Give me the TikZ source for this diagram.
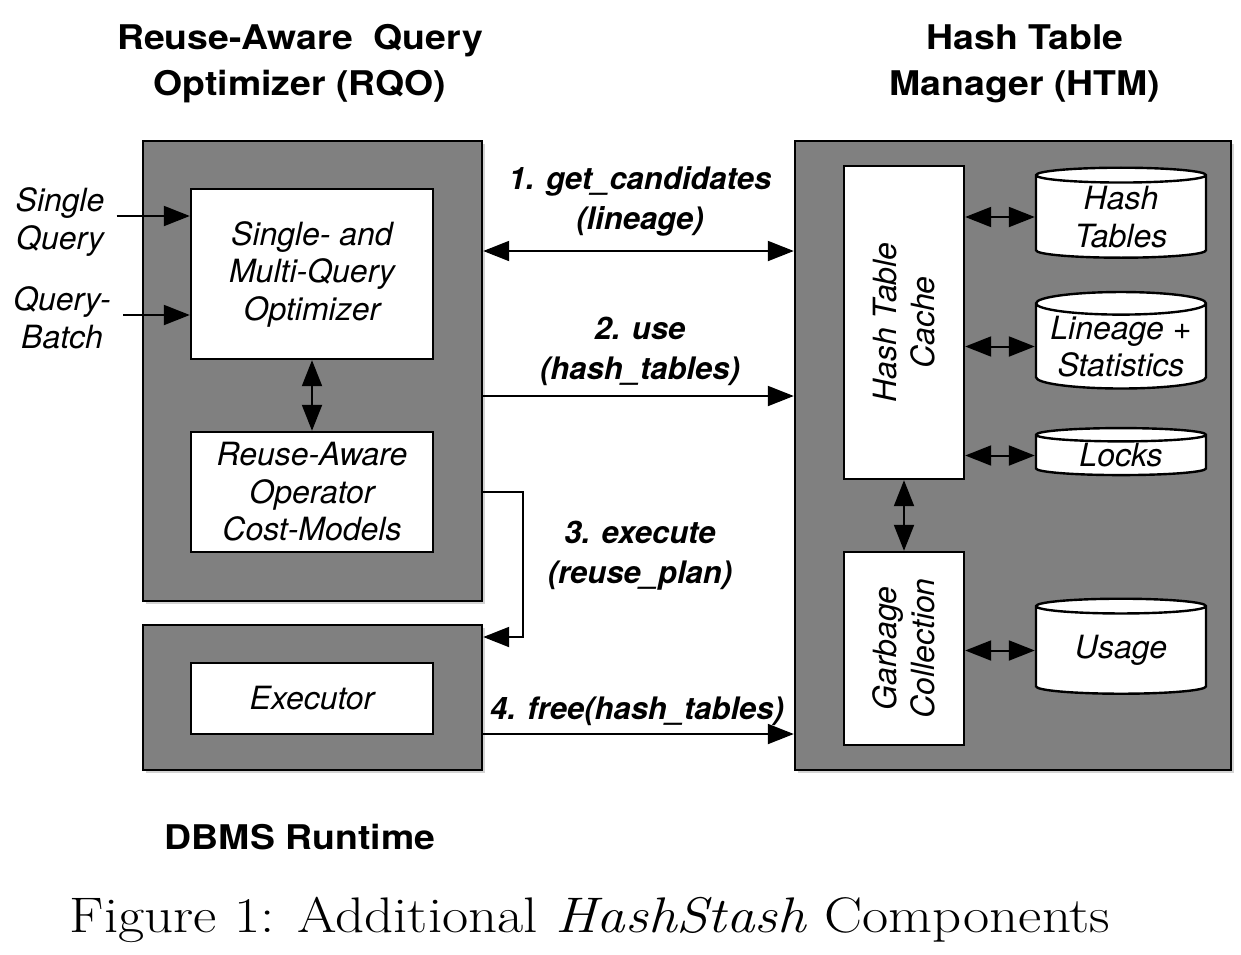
\documentclass[tikz,border=0pt]{standalone}
\usepackage{fontspec}
\newfontfamily\hv{TeX Gyre Heros}
\usetikzlibrary{arrows.meta,shapes.geometric,shadows}

\begin{document}
\begin{tikzpicture}[x=0.5pt,y=-0.5pt,
    shade box/.style={draw,line width=1.2pt,inner sep=0pt,
        drop shadow={opacity=0.35,shadow xshift=1.5pt,shadow yshift=-1.5pt}},
    outer/.style={shade box,fill=gray},
    inner/.style={shade box,fill=white,align=center,font=\hv\itshape\fontsize{16}{18.75}\selectfont},
    db/.style={inner,cylinder,shape border rotate=90,aspect=0.16},
    vtext/.style={rotate=90,align=center,font=\hv\itshape\fontsize{16}{18.75}\selectfont},
    intext/.style={align=center,inner sep=6pt,font=\hv\itshape\fontsize{16}{18.75}\selectfont},
    lbl/.style={align=center,font=\hv\bfseries\itshape\fontsize{15.5}{20}\selectfont},
    title/.style={align=center,xscale=1.1,font=\hv\bfseries\fontsize{17}{23}\selectfont},
    arr/.style={line width=1pt,-{Triangle[length=13pt,width=10pt]}},
    dbl/.style={line width=1pt,{Triangle[length=13pt,width=10pt]}-{Triangle[length=13pt,width=10pt]}}]
    \useasboundingbox (0,0) rectangle (1241,954);

    % outer blocks
    \node[outer,minimum width=169.5pt,minimum height=230pt] (rqo) at (312.5,371) {};
    \node[outer,minimum width=169.5pt,minimum height=72.5pt] (runtime) at (312.5,697.5) {};
    \node[outer,minimum width=218pt,minimum height=314.5pt] (htm) at (1013,455.5) {};

    % RQO and runtime parts
    \node[inner,minimum width=121pt,minimum height=85pt] (opt) at (312,274) {Single- and\\Multi-Query\\Optimizer};
    \node[inner,minimum width=121pt,minimum height=60pt] (cost) at (312,492) {Reuse-Aware\\Operator\\Cost-Models};
    \node[inner,minimum width=121pt,minimum height=35.5pt] (exe) at (312,698.5) {Executor};

    % HTM parts
    \node[inner,minimum width=60pt,minimum height=156.5pt] (cache) at (904,322.5) {};
    \node[vtext] at (cache) {Hash Table\\Cache};
    \node[inner,minimum width=60pt,minimum height=96.5pt] (gc) at (904,648.5) {};
    \node[vtext] at (gc) {Garbage\\Collection};
    \node[db,minimum width=85pt,minimum height=45pt] (ht) at (1121,217) {Hash\\Tables};
    \node[db,minimum width=85pt,minimum height=46.5pt] (lin) at (1121,346.5) {Lineage +\\Statistics};
    \node[db,minimum width=85pt,minimum height=23.5pt] (lk) at (1121,455.5) {Locks};
    \node[db,minimum width=85pt,minimum height=47.5pt] (us) at (1121,650.5) {Usage};

    % titles
    \node[title] at (300,64) {Reuse-Aware\ \ Query\\Optimizer (RQO)};
    \node[title] at (1025,64) {Hash Table\\Manager (HTM)};
    \node[title] at (300,837) {DBMS Runtime};

    % inputs
    \node[intext] (single) at (60,222) {Single\\Query};
    \node[intext] (batch) at (62,318) {Query-\\Batch};
    \draw[arr] (single.east |- 0,216) -- (opt.west |- 0,216);
    \draw[arr] (batch.east |- 0,315) -- (opt.west |- 0,315);

    % inner connectors
    \draw[dbl] (opt) -- (cost);
    \draw[dbl] (cache) -- (gc);
    \foreach \c in {ht,lin,lk} \draw[dbl] (cache.east |- \c.west) -- (\c.west);
    \draw[dbl] (gc.east |- us.west) -- (us.west);

    % calls between RQO, runtime and HTM
    \draw[dbl] (rqo.east |- 0,251) -- (htm.west |- 0,251);
    \node[lbl] at (640,201) {1. get\_candidates\\(lineage)};
    \draw[arr] (rqo.east |- 0,396) -- (htm.west |- 0,396);
    \node[lbl] at (640,351) {2. use\\(hash\_tables)};
    \draw[arr] (rqo.east |- cost.east) -| (523,637) -- (runtime.east |- 0,637);
    \node[lbl] at (640,556) {3. execute\\(reuse\_plan)};
    \draw[arr] (runtime.east |- 0,734) -- (htm.west |- 0,734);
    \node[lbl] at (637,711) {4. free(hash\_tables)};

    % caption
    \node[xscale=1.14,font=\fontsize{25}{29}\selectfont] at (590,920) {Figure 1: Additional \textit{HashStash} Components};
\end{tikzpicture}
\end{document}
